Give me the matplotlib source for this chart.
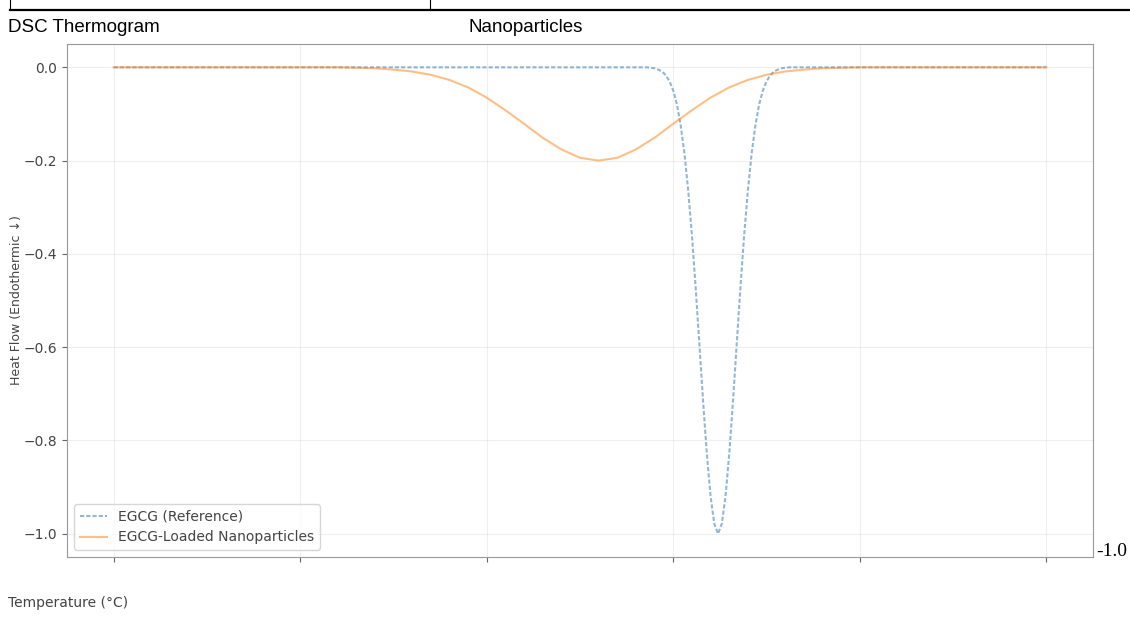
import numpy as np
import matplotlib
matplotlib.use("Agg")
import matplotlib.pyplot as plt
from matplotlib.lines import Line2D

# temperature grid (deg C) and heat flow
temp_np = [50, 55, 60, 65, 70, 75, 80, 85, 90, 95, 100, 105, 110, 115, 120,
           125, 130, 135, 140, 145, 150, 155, 160, 165, 170, 175, 180, 185,
           190, 195, 200, 205, 210, 215, 220, 225, 230, 235, 240, 245, 250,
           255, 260, 265, 270, 275, 280, 285, 290, 295, 300]
flow_np = [0, 0, 0, 0, 0, 0, 0, 0, 0, 0, 0, 0, 0, -0.001, -0.002, -0.005,
           -0.009, -0.016, -0.027, -0.043, -0.065, -0.092, -0.121, -0.151,
           -0.176, -0.194, -0.200, -0.194, -0.176, -0.151, -0.121, -0.092,
           -0.065, -0.043, -0.027, -0.016, -0.009, -0.005, -0.002, -0.001,
           0, 0, 0, 0, 0, 0, 0, 0, 0, 0, 0]

temp_ref = [50, 60, 70, 80, 90, 100, 110, 120, 130, 140, 150, 160, 170, 180,
            185, 190, 193, 194, 195, 196, 197, 198, 199, 200, 201, 202, 203,
            204, 205, 206, 207, 208, 209, 210, 211, 212, 213, 214, 215, 216,
            217, 218, 219, 220, 221, 222, 223, 224, 225, 226, 227, 228, 229,
            230, 231, 235, 240, 250, 260, 270, 280, 290, 300]
flow_ref = [0, 0, 0, 0, 0, 0, 0, 0, 0, 0, 0, 0, 0, 0,
            0, 0, 0, -0.001, -0.002, -0.005, -0.009, -0.017, -0.030, -0.050,
            -0.080, -0.125, -0.185, -0.264, -0.360, -0.472, -0.594, -0.717,
            -0.829, -0.920, -0.979, -1.000, -0.979, -0.920, -0.829, -0.717,
            -0.594, -0.472, -0.360, -0.264, -0.185, -0.125, -0.080, -0.050,
            -0.030, -0.017, -0.009, -0.005, -0.002, -0.001,
            0, 0, 0, 0, 0, 0, 0, 0, 0]

x_ticks = [50, 100, 150, 200, 250, 300]
y_ticks = [0.0, -0.2, -0.4, -0.6, -0.8, -1.0]


def main():
    fig = plt.figure(figsize=(11.3, 6.17), dpi=100)

    # document bits around the chart
    fig.add_artist(Line2D([10 / 1130, 1.0], [1 - 10 / 617] * 2,
                          color="black", lw=1.6))
    fig.add_artist(Line2D([10 / 1130] * 2, [1 - 10 / 617, 1.0],
                          color="black", lw=0.8))
    fig.add_artist(Line2D([430 / 1130] * 2, [1 - 10 / 617, 1.0],
                          color="black", lw=0.8))
    fig.text(8 / 1130, 1 - 27 / 617, "DSC Thermogram", fontsize=13.5,
             family="Liberation Sans", va="center", ha="left")
    fig.text(468 / 1130, 1 - 27 / 617, "Nanoparticles", fontsize=13.5,
             family="Liberation Sans", va="center", ha="left")
    fig.text(8 / 1130, 1 - 603 / 617, "Temperature (°C)", fontsize=10,
             color="#444444", va="center", ha="left")
    fig.text(1096 / 1130, 1 - 551 / 617, "-1.0", fontsize=14,
             family="Liberation Serif", va="center", ha="left")

    ax = fig.add_axes([67 / 1130, 1 - 557 / 617, 1026 / 1130, 513 / 617])
    ax.plot(temp_ref, flow_ref, linestyle=(0, (2, 1)), lw=1.5,
            color="#6f9ec4", alpha=0.75, label="EGCG (Reference)")
    ax.plot(temp_np, flow_np, lw=1.5, color="tab:orange", alpha=0.5,
            label="EGCG-Loaded Nanoparticles")

    ax.set_xticks(x_ticks)
    ax.set_xticklabels([])
    ax.set_yticks(y_ticks)
    ax.set_ylabel("Heat Flow (Endothermic \u2193)", fontsize=9,
                  color="#444444")
    ax.yaxis.set_label_coords(-0.043, 0.5)
    ax.tick_params(labelsize=10, colors="#666666", labelcolor="#444444")
    for s in ax.spines.values():
        s.set_color("#999999")
    ax.grid(True, alpha=0.2)
    ax.legend(loc="lower left", fontsize=10, labelcolor="#444444")

    fig.savefig("out.png", dpi=100)


if __name__ == '__main__':
    main()
